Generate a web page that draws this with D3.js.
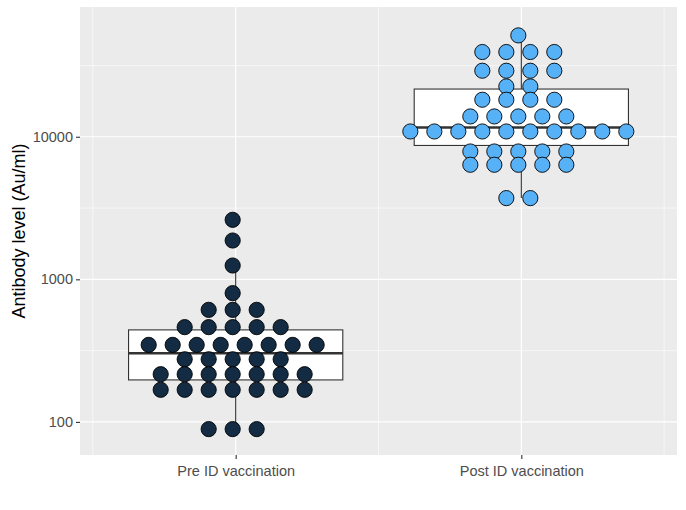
<!DOCTYPE html>
<html>
<head>
<meta charset="utf-8">
<script src="https://cdn.jsdelivr.net/npm/d3@7"></script>
<style>
  body { margin: 0; background: #fff; }
  svg { display: block; font-family: "Liberation Sans", Arial, sans-serif; }
</style>
</head>
<body>
<div id="chart-area"></div>
<script>
// data
var groups = ["Pre ID vaccination", "Post ID vaccination"];
var groupFills = ["#132B43", "#56B1F7"];

var preValues = [
    2615, 1872, 1250, 800,
    611, 611, 611,
    462, 462, 462, 462, 462,
    347, 347, 347, 347, 347, 347, 347, 347,
    275, 275, 275, 275, 275,
    216, 216, 216, 216, 216, 216, 216,
    168, 168, 168, 168, 168, 168, 168,
    89, 89, 89
];
var postValues = [
    51400,
    39300, 39300, 39300, 39300,
    29050, 29050, 29050, 29050,
    22540, 22540,
    18180, 18180, 18180, 18180,
    13880, 13880, 13880, 13880, 13880,
    10890, 10890, 10890, 10890, 10890, 10890, 10890, 10890, 10890, 10890,
    7884, 7884, 7884, 7884, 7884,
    6362, 6362, 6362, 6362, 6362,
    3713, 3713
];
// lower whisker, q1, median, q3, upper whisker
var preBox = [89, 197, 303, 442, 1250];
var postBox = [3713, 8690, 11620, 21610, 51400];

var yTicks = [100, 1000, 10000];
var yMinor = [316.2, 3162, 31623];
var xMinor = [0.5, 1.5, 2.5];

var values = [preValues, postValues];
var boxes = [preBox, postBox];

var width = 686, height = 510;
var panel = { left: 80, right: 677, top: 7, bottom: 455 };

var svg = d3.select("#chart-area")
    .append("svg")
        .attr("width", width)
        .attr("height", height);

svg.append("rect")
    .attr("width", width)
    .attr("height", height)
    .attr("fill", "#fff");

// Scales
var x = d3.scaleLinear()
    .domain([0.455, 2.545])
    .range([panel.left, panel.right]);
var y = d3.scaleLog()
    .domain([58.6, 81300])
    .range([panel.bottom, panel.top]);

// Panel + grid
svg.append("rect")
    .attr("x", panel.left)
    .attr("y", panel.top)
    .attr("width", panel.right - panel.left)
    .attr("height", panel.bottom - panel.top)
    .attr("fill", "#EBEBEB");

svg.selectAll(".minor-y")
    .data(yMinor)
    .enter().append("line")
        .attr("x1", panel.left).attr("x2", panel.right)
        .attr("y1", function(d) { return y(d); })
        .attr("y2", function(d) { return y(d); })
        .attr("stroke", "#fff")
        .attr("stroke-width", 0.6);
svg.selectAll(".minor-x")
    .data(xMinor)
    .enter().append("line")
        .attr("y1", panel.top).attr("y2", panel.bottom)
        .attr("x1", function(d) { return x(d); })
        .attr("x2", function(d) { return x(d); })
        .attr("stroke", "#fff")
        .attr("stroke-width", 0.6);
svg.selectAll(".major-y")
    .data(yTicks)
    .enter().append("line")
        .attr("x1", panel.left).attr("x2", panel.right)
        .attr("y1", function(d) { return y(d); })
        .attr("y2", function(d) { return y(d); })
        .attr("stroke", "#fff")
        .attr("stroke-width", 1.2);
svg.selectAll(".major-x")
    .data([1, 2])
    .enter().append("line")
        .attr("y1", panel.top).attr("y2", panel.bottom)
        .attr("x1", function(d) { return x(d); })
        .attr("x2", function(d) { return x(d); })
        .attr("stroke", "#fff")
        .attr("stroke-width", 1.2);

// Boxplots
var boxHalf = 0.375;
boxes.forEach(function(b, i) {
    var cx = i + 1;
    var g = svg.append("g").attr("class", "box");
    g.append("line")
        .attr("x1", x(cx)).attr("x2", x(cx))
        .attr("y1", y(b[3])).attr("y2", y(b[4]))
        .attr("stroke", "#333").attr("stroke-width", 1.1);
    g.append("line")
        .attr("x1", x(cx)).attr("x2", x(cx))
        .attr("y1", y(b[1])).attr("y2", y(b[0]))
        .attr("stroke", "#333").attr("stroke-width", 1.1);
    g.append("rect")
        .attr("x", x(cx - boxHalf))
        .attr("y", y(b[3]))
        .attr("width", x(cx + boxHalf) - x(cx - boxHalf))
        .attr("height", y(b[1]) - y(b[3]))
        .attr("fill", "#fff")
        .attr("stroke", "#333")
        .attr("stroke-width", 1.1);
    g.append("line")
        .attr("x1", x(cx - boxHalf)).attr("x2", x(cx + boxHalf))
        .attr("y1", y(b[2])).attr("y2", y(b[2]))
        .attr("stroke", "#333").attr("stroke-width", 2.4);
});

// Dot stacks (centred)
var dotStep = 0.084;
var dotShift = -0.0105;
values.forEach(function(vals, i) {
    var rows = d3.groups(vals, function(d) { return d; });
    var dots = [];
    rows.forEach(function(r) {
        var n = r[1].length;
        r[1].forEach(function(v, k) {
            dots.push({ v: v, pos: i + 1 + dotShift + (k - (n - 1) / 2) * dotStep });
        });
    });
    svg.append("g").selectAll("circle")
        .data(dots)
        .enter().append("circle")
            .attr("cx", function(d) { return x(d.pos); })
            .attr("cy", function(d) { return y(d.v); })
            .attr("r", 7.6)
            .attr("fill", groupFills[i])
            .attr("stroke", "#000")
            .attr("stroke-width", 0.9);
});

// Axes
var yAxis = svg.append("g")
    .attr("transform", "translate(" + panel.left + ",0)")
    .call(d3.axisLeft(y).tickValues(yTicks).tickSize(4).tickPadding(3).tickFormat(d3.format("d")));
var xAxis = svg.append("g")
    .attr("transform", "translate(0," + panel.bottom + ")")
    .call(d3.axisBottom(x).tickValues([1, 2]).tickSize(4).tickPadding(7)
        .tickFormat(function(d) { return groups[d - 1]; }));

[yAxis, xAxis].forEach(function(a) {
    a.select(".domain").remove();
    a.selectAll(".tick line").attr("stroke", "#333").attr("stroke-width", 1.1);
    a.selectAll(".tick text")
        .attr("fill", "#4D4D4D")
        .attr("font-size", "14.5px")
        .attr("font-family", "Liberation Sans, Arial, sans-serif");
});

// Y axis label
svg.append("text")
    .attr("transform", "rotate(-90)")
    .attr("x", -(panel.top + panel.bottom) / 2)
    .attr("y", 25)
    .attr("text-anchor", "middle")
    .attr("font-size", "18px")
    .attr("fill", "#000")
    .text("Antibody level (Au/ml)");
</script>
</body>
</html>
